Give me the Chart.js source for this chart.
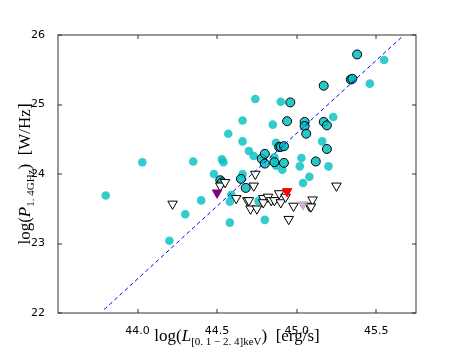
<!DOCTYPE html>
<html>
<head>
<meta charset="utf-8">
<script src="https://cdn.jsdelivr.net/npm/chart.js@4.4.0/dist/chart.umd.min.js"></script>
<style>
  html, body { margin: 0; padding: 0; background: #fff; }
  canvas { display: block; }
</style>
</head>
<body>
<canvas id="radioChart" width="463" height="348"></canvas>
<script>
const xTicks = [44.0, 44.5, 45.0, 45.5];
const yTicks = [22, 23, 24, 25, 26];

// plain cyan points
const plainX = [43.80, 44.03, 44.20, 44.30, 44.35, 44.40, 44.48, 44.53, 44.54, 44.57, 44.58, 44.58, 44.59,
  44.66, 44.66, 44.66, 44.70, 44.73, 44.74, 44.76, 44.80, 44.85, 44.87, 44.86, 44.87, 44.90, 44.91,
  45.03, 45.02, 45.04, 45.08, 45.16, 45.20, 45.23, 45.46, 45.55];
const plainY = [23.69, 24.17, 23.04, 23.42, 24.18, 23.62, 24.00, 24.21, 24.17, 24.58, 23.30, 23.60, 23.70,
  24.77, 24.47, 24.00, 24.33, 24.26, 25.08, 23.61, 23.34, 24.71, 24.45, 24.24, 24.12, 25.04, 24.06,
  24.23, 24.11, 23.87, 23.96, 24.47, 24.11, 24.82, 25.30, 25.64];

// cyan points with black edge
const edgeX = [44.52, 44.53, 44.65, 44.68, 44.78, 44.80, 44.80, 44.86, 44.89, 44.90, 44.92, 44.92, 44.94,
  44.96, 45.05, 45.05, 45.06, 45.12, 45.17, 45.17, 45.19, 45.19, 45.34, 45.35, 45.38];
const edgeY = [23.91, 23.88, 23.93, 23.80, 24.22, 24.29, 24.15, 24.17, 24.39, 24.39, 24.40, 24.16, 24.76,
  25.03, 24.75, 24.69, 24.58, 24.18, 25.27, 24.75, 24.70, 24.36, 25.36, 25.37, 25.72];

// upper limits (open triangles)
const limX = [44.22, 44.52, 44.55, 44.62, 44.69, 44.74, 44.73, 44.70, 44.71, 44.75, 44.79, 44.79, 44.82,
  44.84, 44.86, 44.89, 44.90, 44.93, 44.98, 44.95, 45.08, 45.10, 45.09, 45.25];
const limY = [23.57, 23.83, 23.88, 23.65, 23.62, 24.00, 23.83, 23.62, 23.50, 23.50, 23.65, 23.59, 23.67,
  23.62, 23.62, 23.72, 23.59, 23.67, 23.54, 23.35, 23.54, 23.63, 23.53, 23.83];

// highlighted upper limits
const purpleX = [44.50], purpleY = [23.73];
const redX = [44.94], redY = [23.75];
const thistleX = [45.04], thistleY = [23.56];

// fitted relation
const fitX = [43.79, 45.66];
const fitY = [22.05, 25.97];

const pts = (xs, ys) => xs.map((x, i) => ({ x: x, y: ys[i] }));

const serif = '"Liberation Serif", "DejaVu Serif", serif';
const xLabel = [
  { t: 'log(', font: '17px ' + serif },
  { t: 'L', font: 'italic 17px ' + serif },
  { t: '[0. 1 \u2212 2. 4]keV', font: '11px ' + serif, dy: 4 },
  { t: ')  [erg/s]', font: '17px ' + serif }
];
const yLabel = [
  { t: 'log(', font: '17px ' + serif },
  { t: 'P', font: 'italic 17px ' + serif },
  { t: '1. 4GHz', font: '11px ' + serif, dy: 4 },
  { t: ')  [W/Hz]', font: '17px ' + serif }
];

function drawParts(ctx, parts) {
  let w = 0;
  parts.forEach(p => { ctx.font = p.font; p.w = ctx.measureText(p.t).width; w += p.w; });
  let x = -w / 2;
  parts.forEach(p => { ctx.font = p.font; ctx.fillText(p.t, x, p.dy || 0); x += p.w; });
}

const frame = {
  id: 'frame',
  afterDatasetsDraw(chart) {
    const { ctx, chartArea: a, scales } = chart;
    ctx.save();
    ctx.strokeStyle = '#333';
    ctx.lineWidth = 1;
    ctx.strokeRect(a.left, a.top, a.right - a.left, a.bottom - a.top);
    ctx.beginPath();
    xTicks.forEach(v => {
      const px = Math.round(scales.x.getPixelForValue(v));
      ctx.moveTo(px, a.bottom); ctx.lineTo(px, a.bottom - 4);
      ctx.moveTo(px, a.top); ctx.lineTo(px, a.top + 4);
    });
    yTicks.forEach(v => {
      const py = Math.round(scales.y.getPixelForValue(v));
      ctx.moveTo(a.left, py); ctx.lineTo(a.left + 4, py);
      ctx.moveTo(a.right, py); ctx.lineTo(a.right - 4, py);
    });
    ctx.stroke();
    ctx.restore();
  },
  afterDraw(chart) {
    const { ctx, chartArea: a } = chart;
    ctx.save();
    ctx.fillStyle = '#000';
    ctx.textBaseline = 'alphabetic';
    ctx.save();
    ctx.translate((a.left + a.right) / 2, 341);
    drawParts(ctx, xLabel);
    ctx.restore();
    ctx.save();
    ctx.translate(30, (a.top + a.bottom) / 2);
    ctx.rotate(-Math.PI / 2);
    drawParts(ctx, yLabel);
    ctx.restore();
    ctx.restore();
  }
};

const tickFont = { family: '"DejaVu Sans", sans-serif', size: 11 };

new Chart(document.getElementById('radioChart'), {
  type: 'scatter',
  data: {
    datasets: [
      {
        data: pts(fitX, fitY), showLine: true, borderColor: '#0000ff', borderWidth: 1,
        borderDash: [4, 3], pointRadius: 0, fill: false, order: 0
      },
      {
        data: pts(purpleX, purpleY), pointStyle: 'triangle', rotation: 180, pointRadius: 5.5,
        backgroundColor: '#800080', borderColor: '#800080', borderWidth: 1, order: 1
      },
      {
        data: pts(redX, redY), pointStyle: 'triangle', rotation: 180, pointRadius: 5.5,
        backgroundColor: '#ff0000', borderColor: '#ff0000', borderWidth: 1, order: 1
      },
      {
        data: pts(thistleX, thistleY), pointStyle: 'triangle', rotation: 180, pointRadius: 5.5,
        backgroundColor: 'rgba(200,160,200,0.85)', borderColor: 'rgba(200,160,200,0.85)', borderWidth: 1, order: 1
      },
      {
        data: pts(limX, limY), pointStyle: 'triangle', rotation: 180, pointRadius: 5.5,
        backgroundColor: '#ffffff', borderColor: '#000000', borderWidth: 1, order: 2
      },
      {
        data: pts(edgeX, edgeY), pointStyle: 'circle', pointRadius: 4.5,
        backgroundColor: 'rgba(0,191,191,0.85)', borderColor: '#000000', borderWidth: 1, order: 3
      },
      {
        data: pts(plainX, plainY), pointStyle: 'circle', pointRadius: 4.3,
        backgroundColor: 'rgba(0,191,191,0.8)', borderWidth: 0, order: 4
      }
    ]
  },
  options: {
    responsive: false,
    animation: false,
    layout: { padding: { top: 35, right: 47, left: 0, bottom: 0 } },
    plugins: { legend: { display: false }, tooltip: { enabled: false } },
    scales: {
      x: {
        type: 'linear', min: 43.5, max: 45.75,
        grid: { display: false }, border: { display: false },
        afterBuildTicks: s => { s.ticks = xTicks.map(v => ({ value: v })); },
        afterFit: s => { s.height = 35; },
        ticks: { padding: 4, color: '#000', font: tickFont, maxRotation: 0, autoSkip: false,
          callback: v => Number(v).toFixed(1) }
      },
      y: {
        type: 'linear', min: 22, max: 26,
        grid: { display: false }, border: { display: false },
        afterBuildTicks: s => { s.ticks = yTicks.map(v => ({ value: v })); },
        afterFit: s => { s.width = 58; },
        ticks: { padding: 5, color: '#000', font: tickFont, autoSkip: false,
          callback: v => String(v) }
      }
    }
  },
  plugins: [frame]
});
</script>
</body>
</html>
